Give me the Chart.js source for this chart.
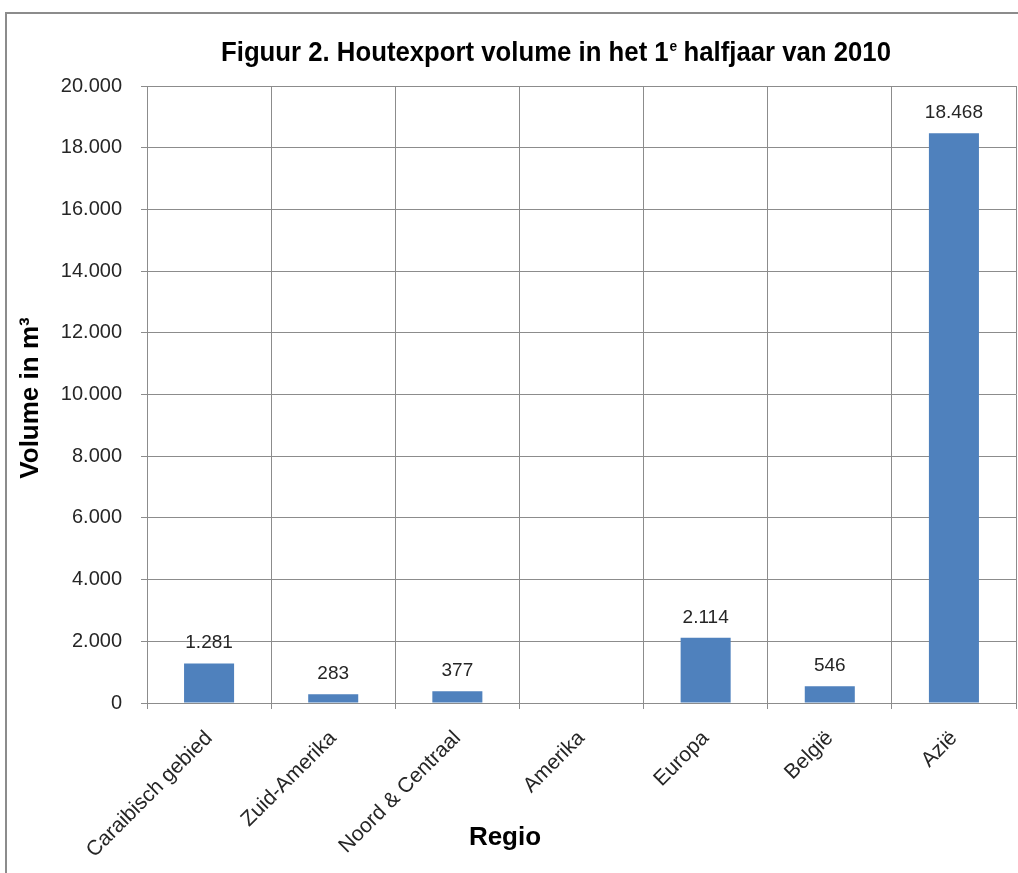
<!DOCTYPE html>
<html><head><meta charset="utf-8">
<script src="https://cdn.jsdelivr.net/npm/chart.js@4"></script>
<style>html,body{margin:0;padding:0;background:#fff}#c{display:block}</style>
</head><body>
<canvas id="c" width="1018" height="873"></canvas>
<script>
const categories = ["Caraibisch gebied", "Zuid-Amerika", "Noord & Centraal", "Amerika", "Europa", "België", "Azië"];
const volumes = [1281, 283, 377, null, 2114, 546, 18468];
const titleMain = "Figuur 2. Houtexport volume in het 1";
const titleSup = "e";
const titleRest = " halfjaar van 2010";
const yTitle = "Volume in m³";
const xTitle = "Regio";
const yMin = 0, yMax = 20000, yStep = 2000;

const fmt = n => String(n).replace(/\B(?=(\d{3})+(?!\d))/g, '.');
const GRID = '#8c8c8c';
const TXT = '#262626';

const extras = {
  id: 'extras',
  beforeDraw(chart) {
    const ctx = chart.ctx;
    ctx.save();
    ctx.fillStyle = '#fff';
    ctx.fillRect(0, 0, chart.width, chart.height);
    ctx.strokeStyle = '#8c8c8c';
    ctx.lineWidth = 2;
    ctx.strokeRect(6, 13, 1200, 1000);
    ctx.restore();
  },
  afterDraw(chart) {
    const ctx = chart.ctx;
    ctx.save();
    // Main title
    const bigFont = 'bold 28px "Liberation Sans Narrow", "Liberation Sans", Arial, sans-serif';
    const supFont = 'bold 15px "Liberation Sans Narrow", "Liberation Sans", Arial, sans-serif';
    ctx.font = bigFont;
    const w1 = ctx.measureText(titleMain).width;
    const w3 = ctx.measureText(titleRest).width;
    ctx.font = supFont;
    const w2 = ctx.measureText(titleSup).width;
    const total = w1 + w2 + w3;
    const target = 670;
    const sx = target / total;
    const x0 = 556 - target / 2;
    const base = 61;
    ctx.translate(x0, base);
    ctx.scale(sx, 1);
    ctx.fillStyle = '#000';
    ctx.textBaseline = 'alphabetic';
    ctx.textAlign = 'left';
    ctx.font = bigFont;
    ctx.fillText(titleMain, 0, 0);
    ctx.font = supFont;
    ctx.fillText(titleSup, w1 + 1, -10);
    ctx.font = bigFont;
    ctx.fillText(titleRest, w1 + w2, 0);
    ctx.restore();

    // Axis titles
    ctx.save();
    ctx.fillStyle = '#000';
    ctx.font = 'bold 26px "Liberation Sans", Arial, sans-serif';
    ctx.textAlign = 'center';
    ctx.textBaseline = 'middle';
    ctx.fillText(xTitle, 505, 838);
    ctx.translate(31, 398);
    ctx.rotate(-Math.PI / 2);
    ctx.fillText(yTitle, 0, 0);
    ctx.restore();

    // Data labels
    ctx.save();
    ctx.fillStyle = TXT;
    ctx.font = '19px "Liberation Sans", Arial, sans-serif';
    ctx.textAlign = 'center';
    ctx.textBaseline = 'bottom';
    const meta = chart.getDatasetMeta(0);
    meta.data.forEach((bar, i) => {
      const v = volumes[i];
      if (v === null || v === undefined) return;
      ctx.fillText(fmt(v), bar.x, bar.y - 11);
    });
    ctx.restore();
  }
};

new Chart(document.getElementById('c'), {
  type: 'bar',
  data: {
    labels: categories,
    datasets: [{
      data: volumes,
      backgroundColor: '#4F81BD',
      borderWidth: 0,
      categoryPercentage: 1,
      barPercentage: 0.403
    }]
  },
  options: {
    responsive: false,
    animation: false,
    devicePixelRatio: 1,
    layout: { padding: { top: 86, right: 2, left: 0, bottom: 0 } },
    plugins: { legend: { display: false }, tooltip: { enabled: false }, title: { display: false } },
    scales: {
      x: {
        offset: true,
        grid: { offset: true, color: GRID, lineWidth: 1, drawTicks: true, tickLength: 6, tickColor: GRID },
        border: { color: GRID, width: 1 },
        ticks: {
          color: TXT,
          font: { family: '"Liberation Sans", Arial, sans-serif', size: 21 },
          minRotation: 45, maxRotation: 45, padding: 17, autoSkip: false
        },
        afterFit(scale) { scale.height = 170; }
      },
      y: {
        min: yMin, max: yMax,
        grid: { color: GRID, lineWidth: 1, drawTicks: true, tickLength: 6, tickColor: GRID },
        border: { color: GRID, width: 1 },
        ticks: {
          stepSize: yStep,
          color: TXT,
          padding: 19,
          font: { family: '"Liberation Sans", Arial, sans-serif', size: 20 },
          callback: v => fmt(v)
        },
        afterFit(scale) { scale.width = 147; }
      }
    }
  },
  plugins: [extras]
});
</script>
</body></html>
